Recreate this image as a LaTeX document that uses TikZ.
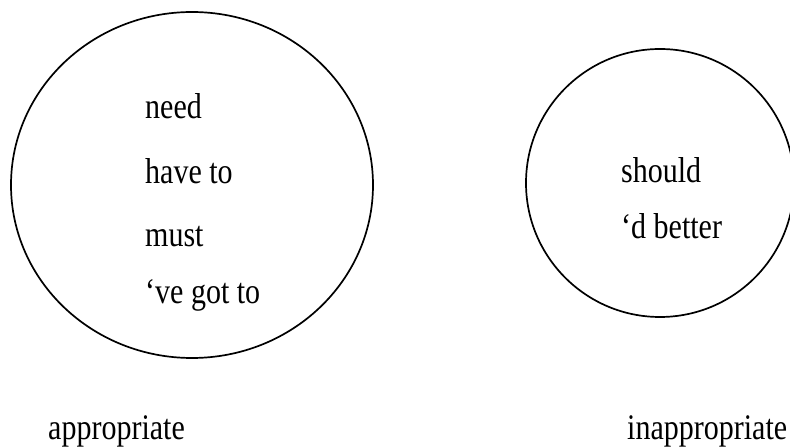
\documentclass[tikz,border=0pt]{standalone}
\usepackage{fontspec}
\setmainfont{Liberation Serif}
\usepackage{graphicx}
\begin{document}
\begin{tikzpicture}[x=1bp,y=-1bp,
  ring/.style={draw=black,line width=1.7bp},
  word/.style={anchor=base west,inner sep=0pt,font=\fontsize{30bp}{36bp}\selectfont}]
\useasboundingbox (0,0) rectangle (790,447);
\draw[ring] (192,185) ellipse [x radius=181, y radius=173];
\draw[ring] (660,183) ellipse [x radius=134, y radius=134];
\node[word] (need) at (145,119) {\scalebox{1}[1.2]{need}};
\node[word] (have) at (145,184) {\scalebox{1}[1.2]{have to}};
\node[word] (must) at (145,247) {\scalebox{1}[1.2]{must}};
\node[word] (got) at (145,304) {\scalebox{1}[1.2]{‘ve got to}};
\node[word] (should) at (621,183) {\scalebox{1}[1.2]{should}};
\node[word] (better) at (621,239) {\scalebox{1}[1.2]{‘d better}};
\node[word] (app) at (48,439) {\scalebox{1}[1.2]{appropriate}};
\node[word] (inapp) at (627,439) {\scalebox{1}[1.2]{inappropriate}};
\end{tikzpicture}
\end{document}
